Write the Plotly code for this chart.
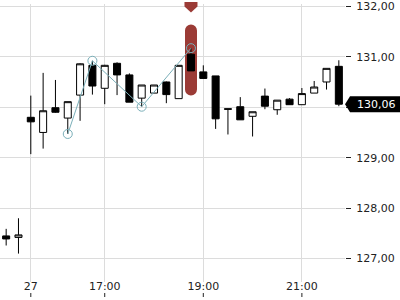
import plotly.graph_objects as go

# ---- data ----
times = ["26 21:30", "26 21:45",
         "27 15:30", "27 15:45", "27 16:00", "27 16:15", "27 16:30", "27 16:45",
         "27 17:00", "27 17:15", "27 17:30", "27 17:45", "27 18:00", "27 18:15",
         "27 18:30", "27 18:45", "27 19:00", "27 19:15", "27 19:30", "27 19:45",
         "27 20:00", "27 20:15", "27 20:30", "27 20:45", "27 21:00", "27 21:15",
         "27 21:30", "27 21:45"]
open_ = [127.45, 127.42, 129.80, 129.50, 129.99, 129.785, 130.24, 130.83, 130.375, 130.87,
         130.64, 130.18, 130.28, 130.50, 130.17, 131.05, 130.70, 130.62, 129.97, 130.01,
         129.82, 130.22, 129.95, 130.16, 130.05, 130.28, 130.50, 130.81]
high = [127.59, 127.80, 130.23, 130.68, 130.54, 130.11, 130.87, 130.92, 130.84, 130.89,
        130.67, 130.44, 130.44, 130.51, 130.83, 131.17, 130.83, 130.62, 129.97, 130.20,
        129.91, 130.37, 130.14, 130.18, 130.38, 130.52, 130.77, 130.93]
low = [127.26, 127.10, 129.07, 129.18, 129.89, 129.47, 129.73, 130.25, 130.06, 130.24,
       130.10, 130.01, 130.28, 130.08, 130.17, 130.72, 130.57, 129.57, 129.46, 129.75,
       129.42, 129.96, 129.85, 130.05, 130.05, 130.28, 130.35, 130.02]
close = [127.39, 127.47, 129.71, 129.93, 129.90, 130.11, 130.86, 130.42, 130.83, 130.64,
         130.10, 130.44, 130.44, 130.25, 130.83, 130.72, 130.57, 129.77, 129.96, 129.75,
         129.91, 130.02, 130.14, 130.05, 130.27, 130.40, 130.77, 130.06]

zigzag_times = ["27 16:15", "27 16:45", "27 17:45", "27 18:45"]
zigzag_values = [129.47, 130.92, 130.01, 131.17]

tick_times = ["27 15:30", "27 17:00", "27 19:00", "27 21:00"]
tick_text = ["27", "17:00", "19:00", "21:00"]
y_ticks = [127, 128, 129, 130, 131, 132]

highlight_time = "27 18:45"
highlight_top = 131.52
highlight_bottom = 130.35
last_price = close[-1]

# ---- styles ----
RED = "#9b3b36"
TEAL = "#7aafb9"
GRID = "#dcdcdc"
FONT = dict(family="DejaVu Sans", size=11, color="#222222")

pos = {t: i for i, t in enumerate(times)}
x = [pos[t] for t in times]

def fmt(v):
    return f"{v:.2f}".replace(".", ",")

# the last-price label covers the tick label nearest to it
y_ticktext = ["" if abs(v - last_price) < 0.2 else fmt(v) for v in y_ticks]

fig = go.Figure()
fig.add_trace(go.Candlestick(
    x=x, open=open_, high=high, low=low, close=close,
    increasing=dict(line=dict(color="black", width=1), fillcolor="white"),
    decreasing=dict(line=dict(color="black", width=1), fillcolor="black"),
    whiskerwidth=0, showlegend=False, hoverinfo="skip"))
fig.add_trace(go.Scatter(
    x=[pos[t] for t in zigzag_times], y=zigzag_values, mode="lines+markers",
    line=dict(color=TEAL, width=1),
    marker=dict(symbol="circle-open", size=9, color=TEAL, line=dict(width=1)),
    showlegend=False, hoverinfo="skip"))

hx = pos[highlight_time]
shapes = [
    dict(type="rect", xref="x", yref="y", xsizemode="pixel", xanchor=hx,
         x0=-6, x1=6, y0=highlight_bottom, y1=highlight_top,
         fillcolor=RED, line=dict(width=0), layer="between"),
    dict(type="circle", xref="x", yref="y", xsizemode="pixel", ysizemode="pixel",
         xanchor=hx, yanchor=highlight_top, x0=-6, x1=6, y0=-6, y1=6,
         fillcolor=RED, line=dict(width=0), layer="between"),
    dict(type="circle", xref="x", yref="y", xsizemode="pixel", ysizemode="pixel",
         xanchor=hx, yanchor=highlight_bottom, x0=-6, x1=6, y0=-6, y1=6,
         fillcolor=RED, line=dict(width=0), layer="between"),
    dict(type="path", xref="x", yref="paper", xsizemode="pixel", ysizemode="pixel",
         xanchor=hx, yanchor=1, path="M-6.5,2 L6.5,2 L6.5,-2.5 L0,-8.5 L-6.5,-2.5 Z",
         fillcolor=RED, line=dict(width=0), layer="above"),
    dict(type="path", xref="paper", yref="y", xsizemode="pixel", ysizemode="pixel",
         xanchor=1, yanchor=last_price, path="M0,0 L5,8 L56,8 L56,-8 L5,-8 Z",
         fillcolor="black", line=dict(width=0), layer="above"),
]
for t in tick_times:
    shapes.append(dict(type="line", xref="x", yref="paper", ysizemode="pixel",
                       xanchor=pos[t], yanchor=0, x0=pos[t], x1=pos[t], y0=-11, y1=-15,
                       line=dict(color="#222222", width=1)))

fig.update_layout(
    width=400, height=300,
    margin=dict(l=0, r=55, t=0, b=18),
    paper_bgcolor="white", plot_bgcolor="white",
    font=FONT, separators=",.",
    boxgap=0.43, boxgroupgap=0,
    shapes=shapes,
    annotations=[dict(text=fmt(last_price), xref="paper", yref="y",
                      x=1, y=last_price, xanchor="center", yanchor="middle", xshift=31,
                      showarrow=False, font=dict(family="DejaVu Sans", size=11, color="white"))],
    xaxis=dict(range=[-0.5, len(times) - 0.5], tickmode="array",
               tickvals=[pos[t] for t in tick_times], ticktext=tick_text,
               showgrid=True, gridcolor=GRID, gridwidth=1, zeroline=False,
               showline=False, ticks="", ticklabelstandoff=-4,
               rangeslider=dict(visible=False)),
    yaxis=dict(side="right", range=[126.537, 132.045], tickmode="array", tickvals=y_ticks,
               ticktext=y_ticktext, showgrid=True, gridcolor=GRID, gridwidth=1,
               zeroline=False, showline=False, ticks="outside", ticklen=5,
               tickcolor="#222222", ticklabelstandoff=3, ticklabeloverflow="allow"),
)

fig.write_html("out.html")
